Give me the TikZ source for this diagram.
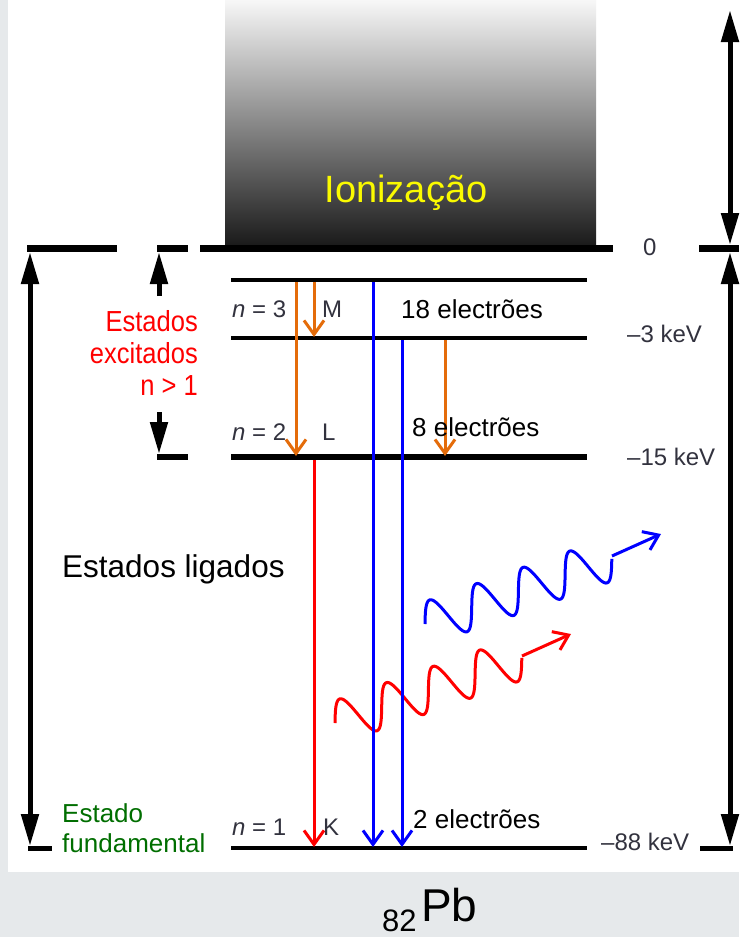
\documentclass[tikz,border=0pt]{standalone}
\usepackage{fontspec}
\setmainfont{Liberation Sans}
\newfontfamily\condfont{Liberation Sans}[FakeStretch=0.88]
\usetikzlibrary{arrows.meta}
\definecolor{bggray}{RGB}{230,233,235}
\definecolor{orng}{RGB}{228,108,10}
\definecolor{lblgray}{RGB}{50,50,62}
\definecolor{dgreen}{RGB}{0,110,0}
\definecolor{ionyellow}{RGB}{250,250,0}
\definecolor{pblue}{RGB}{0,0,255}
\definecolor{pred}{RGB}{255,0,0}
\begin{document}
\begin{tikzpicture}[x=1pt,y=-1pt,
  zero/.style={line width=7pt},
  lvl/.style={line width=4.5pt},
  tri/.style={line width=5pt},
  bigtip/.tip={Triangle[length=32pt,width=17pt]},
  trans/.style={line width=3pt, -{Straight Barb[length=14pt,width=20pt]}},
  lbl/.style={text=lblgray, font=\fontsize{24}{26}\selectfont, inner sep=0, anchor=base west},
  elec/.style={text=black, font=\fontsize{26}{28}\selectfont, inner sep=0, anchor=base west},
  wave/.style={line width=3pt, smooth, samples=161, domain=0:4, variable=\t}
]
\useasboundingbox (0,0) rectangle (739,937);
\fill[bggray] (0,0) rectangle (739,937);
\fill[white] (8,0) rectangle (739,872);

% ionization continuum
\shade[top color=white!97!black, middle color=black!32, bottom color=black!90] (225,0) rectangle (596,246);
\node[text=ionyellow, font=\fontsize{38}{40}\selectfont, inner sep=0, anchor=base] (ion) at (406,202) {Ionização};

% zero line
\draw[zero] (27,248) -- (117,248);
\draw[zero] (157,248) -- (188,248);
\draw[zero] (200,248) -- (613,248);
\draw[zero] (699,248) -- (739,248);

% levels
\draw[lvl] (231,280) -- (587,280);
\draw[line width=4pt] (231,338) -- (587,338);
\draw[line width=6pt] (231,457) -- (587,457);
\draw[lvl] (231,848) -- (587,848);
\draw[line width=6pt] (157,457) -- (188,457);

% big black arrows
\coordinate (la) at (30,252);
\coordinate (lb) at (30,846);
\draw[tri, bigtip-bigtip] (la) -- (lb);
\draw[tri] (28,848) -- (52,848);
\coordinate (sa1) at (159,296);
\coordinate (sa2) at (159,252);
\draw[tri, -bigtip] (sa1) -- (sa2);
\coordinate (sb1) at (159,412);
\coordinate (sb2) at (159,454);
\draw[tri, -bigtip] (sb1) -- (sb2);
\coordinate (ra) at (730,10);
\coordinate (rb) at (730,245);
\draw[tri, bigtip-bigtip] (ra) -- (rb);
\coordinate (rc) at (730,252);
\coordinate (rd) at (730,846);
\draw[tri, bigtip-bigtip] (rc) -- (rd);
\draw[tri] (700,848) -- (733,848);

% transitions
\coordinate (o1a) at (296,282); \coordinate (o1b) at (296,456);
\coordinate (o2a) at (314,282); \coordinate (o2b) at (314,337);
\coordinate (o3a) at (445,340); \coordinate (o3b) at (445,456);
\coordinate (r1a) at (314,460); \coordinate (r1b) at (314,847);
\coordinate (b1a) at (373,282); \coordinate (b1b) at (373,847);
\coordinate (b2a) at (402,340); \coordinate (b2b) at (402,847);
\draw[trans, orng] (o1a) -- (o1b);
\draw[trans, orng] (o2a) -- (o2b);
\draw[trans, orng] (o3a) -- (o3b);
\draw[trans, pred] (r1a) -- (r1b);

% photons
\draw[pred, wave] plot ({335 + 46.7*\t - 7*sin(360*\t)}, {723 - 16.3*\t - 20*sin(360*\t)});
\coordinate (rw) at (522,656);
\coordinate (rwt) at (571,634);
\draw[trans, pred] (rw) -- (rwt);
\draw[trans, pblue] (b1a) -- (b1b);
\draw[trans, pblue] (b2a) -- (b2b);
\draw[pblue, wave] plot ({425 + 46.7*\t - 7*sin(360*\t)}, {624 - 16.3*\t - 20*sin(360*\t)});
\coordinate (bw) at (612,556);
\coordinate (bwt) at (661,534);
\draw[trans, pblue] (bw) -- (bwt);

% level labels
\node[lbl] (n3) at (232,317) {\textit{n} = 3};
\node[lbl] (m) at (322,317) {M};
\node[lbl] (n2) at (232,440) {\textit{n} = 2};
\node[lbl] (l) at (322,440) {L};
\node[lbl] (n1) at (232,835) {\textit{n} = 1};
\node[lbl] (k) at (323,835) {K};
\node[elec] (e18) at (401,318) {18 electrões};
\node[elec] (e8) at (412,436) {8 electrões};
\node[elec] (e2) at (413,828) {2 electrões};
\node[lbl] (z0) at (643,255) {0};
\node[lbl] (k3) at (627,342) {–3 keV};
\node[lbl] (k15) at (627,465) {–15 keV};
\node[lbl] (k88) at (601,850) {–88 keV};

% side texts
\node[text=pred, font=\condfont\fontsize{29}{32}\selectfont, align=right, inner sep=0, anchor=base east] (exc) at (198,395) {Estados\\excitados\\n > 1};
\node[text=black, font=\fontsize{31.5}{34}\selectfont, inner sep=0, anchor=base west] (lig) at (62,577) {Estados ligados};
\node[text=dgreen, font=\fontsize{26}{30}\selectfont, align=left, inner sep=0, anchor=base west] (fund) at (62,852) {Estado\\fundamental};

% element
\node[font=\fontsize{46}{50}\selectfont, inner sep=0, anchor=base west] (pb) at (421,921) {Pb};
\node[font=\fontsize{31}{34}\selectfont, inner sep=0, anchor=base west] (z82) at (382,931) {82};
\end{tikzpicture}
\end{document}
